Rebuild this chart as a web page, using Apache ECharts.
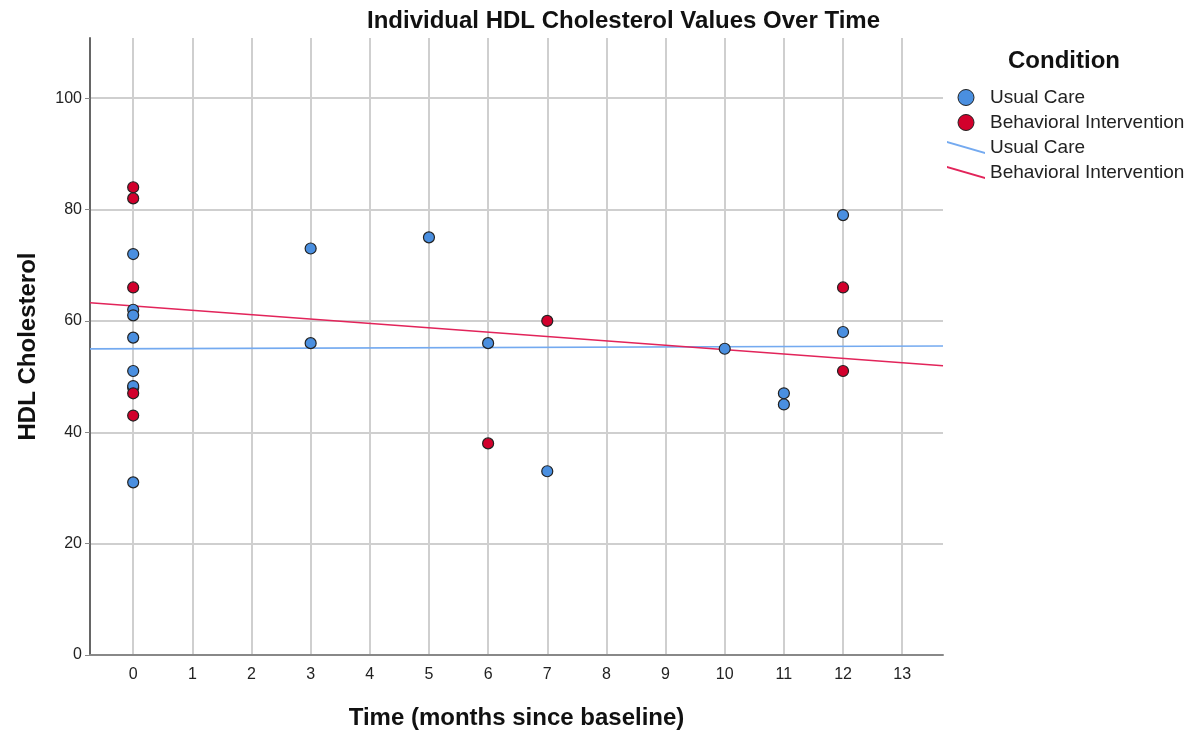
<!DOCTYPE html>
<html>
<head>
<meta charset="utf-8">
<title>Individual HDL Cholesterol Values Over Time</title>
<script src="https://cdn.jsdelivr.net/npm/echarts@6/dist/echarts.min.js"></script>
<style>
  html, body { margin: 0; padding: 0; background: #ffffff; }
  #chart { width: 1190px; height: 732px; }
</style>
</head>
<body>
<div id="chart"></div>
<script>
// Observations: [months since baseline, HDL cholesterol]
const usualCarePoints = [
  [0, 72], [0, 62], [0, 61], [0, 57], [0, 51], [0, 48], [0, 48.3], [0, 31],
  [3, 73], [3, 56], [5, 75], [6, 56], [7, 33], [10, 55],
  [11, 47], [11, 45], [12, 79], [12, 58]
];
const interventionPoints = [
  [0, 84], [0, 82], [0, 66], [0, 47], [0, 43],
  [6, 38], [7, 60], [12, 66], [12, 51]
];

// Linear fit lines, given by their values at the two ends of the time range
const usualCareFit = [[-0.73, 54.97], [13.69, 55.48]];
const interventionFit = [[-0.73, 63.25], [13.69, 51.94]];

// Axis ranges and tick labels
const xRange = [-0.73, 13.69];
const yRange = [0, 110.8];
const xTicks = [0, 1, 2, 3, 4, 5, 6, 7, 8, 9, 10, 11, 12, 13];
const yTicks = [0, 20, 40, 60, 80, 100];

const groupNames = ['Usual Care', 'Behavioral Intervention'];
const fitNames = ['Usual Care ', 'Behavioral Intervention '];

const FONT = '"Liberation Sans", Arial, sans-serif';
const BLUE_PT = '#4a8fe0';
const RED_PT = '#d2002c';
const BLUE_LINE = '#74aaf0';
const RED_LINE = '#e2245a';
const GRID_COLOR = '#cfcfcf';

// A thin slanted bar used as the legend key for the fit lines
const slantIcon = 'path://M0,0 L36,10.5 L36,12.5 L0,2 Z';

const chart = echarts.init(document.getElementById('chart'), null, { renderer: 'canvas' });

chart.setOption({
  backgroundColor: '#ffffff',
  animation: false,
  title: [
    {
      text: 'Individual HDL Cholesterol Values Over Time',
      left: 367,
      top: 9,
      padding: 0,
      textStyle: { fontFamily: FONT, fontSize: 24, fontWeight: 'bold', color: '#111' }
    },
    {
      text: 'Condition',
      left: 1008,
      top: 49,
      padding: 0,
      textStyle: { fontFamily: FONT, fontSize: 24, fontWeight: 'bold', color: '#111' }
    }
  ],
  legend: {
    orient: 'vertical',
    left: 947,
    top: 88,
    padding: 0,
    itemWidth: 38,
    itemHeight: 16,
    itemGap: 6,
    symbolKeepAspect: true,
    formatter: name => name.trim(),
    textStyle: { fontFamily: FONT, fontSize: 19, color: '#222' },
    data: [
      { name: groupNames[0], icon: 'circle', itemStyle: { color: BLUE_PT, borderColor: '#222', borderWidth: 1 } },
      { name: groupNames[1], icon: 'circle', itemStyle: { color: RED_PT, borderColor: '#222', borderWidth: 1 } },
      { name: fitNames[0], icon: slantIcon, itemStyle: { color: BLUE_LINE, borderWidth: 0 } },
      { name: fitNames[1], icon: slantIcon, itemStyle: { color: RED_LINE, borderWidth: 0 } }
    ]
  },
  grid: {
    left: 90, top: 38, right: 247, bottom: 77,
    containLabel: false,
    outerBoundsMode: 'none'
  },
  xAxis: {
    type: 'value',
    min: xRange[0],
    max: xRange[1],
    name: 'Time (months since baseline)',
    nameLocation: 'middle',
    nameGap: 51,
    nameTextStyle: { fontFamily: FONT, fontSize: 24, fontWeight: 'bold', color: '#111' },
    axisLine: { show: true, onZero: false, lineStyle: { color: '#888', width: 2 } },
    axisTick: { show: false, customValues: xTicks },
    axisLabel: {
      customValues: xTicks,
      margin: 12,
      fontFamily: FONT, fontSize: 16, color: '#222'
    },
    splitLine: { show: true, lineStyle: { color: GRID_COLOR, width: 2 } }
  },
  yAxis: {
    type: 'value',
    min: yRange[0],
    max: yRange[1],
    name: 'HDL Cholesterol',
    nameLocation: 'middle',
    nameGap: 50,
    nameTextStyle: { fontFamily: FONT, fontSize: 24, fontWeight: 'bold', color: '#111' },
    axisLine: { show: true, onZero: false, lineStyle: { color: '#666', width: 2 } },
    axisTick: { show: true, length: 5, customValues: yTicks, lineStyle: { color: '#888', width: 1 } },
    axisLabel: {
      customValues: yTicks,
      margin: 8,
      fontFamily: FONT, fontSize: 16, color: '#222'
    },
    splitLine: { show: true, lineStyle: { color: GRID_COLOR, width: 2 } }
  },
  series: [
    {
      name: fitNames[0],
      type: 'line',
      data: usualCareFit,
      showSymbol: false,
      symbol: 'none',
      lineStyle: { color: BLUE_LINE, width: 1.6 },
      itemStyle: { color: BLUE_LINE },
      z: 2
    },
    {
      name: fitNames[1],
      type: 'line',
      data: interventionFit,
      showSymbol: false,
      symbol: 'none',
      lineStyle: { color: RED_LINE, width: 1.6 },
      itemStyle: { color: RED_LINE },
      z: 2
    },
    {
      name: groupNames[0],
      type: 'scatter',
      data: usualCarePoints,
      symbol: 'circle',
      symbolSize: 11,
      itemStyle: { color: BLUE_PT, borderColor: '#222', borderWidth: 1.2, opacity: 1 },
      z: 3
    },
    {
      name: groupNames[1],
      type: 'scatter',
      data: interventionPoints,
      symbol: 'circle',
      symbolSize: 11,
      itemStyle: { color: RED_PT, borderColor: '#222', borderWidth: 1.2, opacity: 1 },
      z: 4
    }
  ]
});
</script>
</body>
</html>
